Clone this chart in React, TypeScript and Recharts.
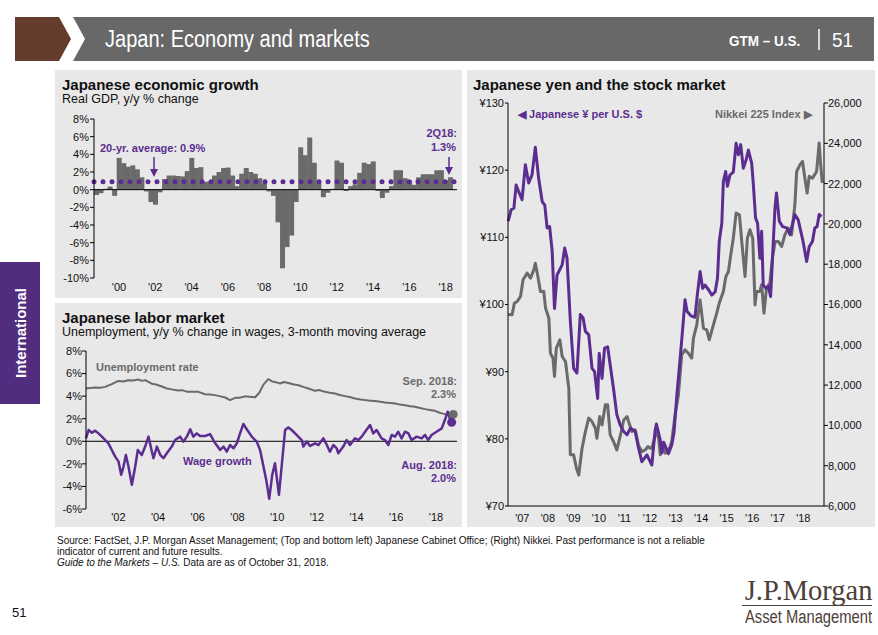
import React from 'react'
import {
  BarChart,
  Bar,
  LineChart,
  Line,
  XAxis,
  YAxis,
  ReferenceLine,
  ReferenceDot,
} from 'recharts'

const W = 878
const H = 635
const FONT = "'Liberation Sans', Arial, Helvetica, sans-serif"
const SERIF = "'Liberation Serif', 'DejaVu Serif', serif"
const PANEL = '#e8e8e8'
const PURPLE = '#5c2d91'
const GRAY = '#6a6a6a'
const INK = '#111'
const BROWN = '#633c2b'
const HEADER_GRAY = '#686868'
const TAB_PURPLE = '#512d80'
const LOGO = '#4d4038'

// ---- Japanese economic growth (real GDP, y/y %) ----
const GDP_QUARTERS = [
  '4Q98',
  '1Q99', '2Q99', '3Q99', '4Q99',
  '1Q00', '2Q00', '3Q00', '4Q00',
  '1Q01', '2Q01', '3Q01', '4Q01',
  '1Q02', '2Q02', '3Q02', '4Q02',
  '1Q03', '2Q03', '3Q03', '4Q03',
  '1Q04', '2Q04', '3Q04', '4Q04',
  '1Q05', '2Q05', '3Q05', '4Q05',
  '1Q06', '2Q06', '3Q06', '4Q06',
  '1Q07', '2Q07', '3Q07', '4Q07',
  '1Q08', '2Q08', '3Q08', '4Q08',
  '1Q09', '2Q09', '3Q09', '4Q09',
  '1Q10', '2Q10', '3Q10', '4Q10',
  '1Q11', '2Q11', '3Q11', '4Q11',
  '1Q12', '2Q12', '3Q12', '4Q12',
  '1Q13', '2Q13', '3Q13', '4Q13',
  '1Q14', '2Q14', '3Q14', '4Q14',
  '1Q15', '2Q15', '3Q15', '4Q15',
  '1Q16', '2Q16', '3Q16', '4Q16',
  '1Q17', '2Q17', '3Q17', '4Q17',
  '1Q18', '2Q18', '3Q18',
]

const GDP_GROWTH = [
  -0.6,
  -0.4, 0.1, 0.35, -0.7,
  3.6, 3.0, 2.6, 2.75,
  2.3, 1.4, -0.2, -1.4,
  -1.7, -0.3, 1.2, 1.6,
  1.6, 1.55, 1.5, 2.1,
  3.6, 2.45, 2.55, 0.9,
  0.9, 1.6, 2.0, 2.45,
  2.5, 1.6, 0.4, 1.8,
  2.45, 2.0, 1.8, 1.3,
  0.7, -0.2, -0.7, -3.7,
  -8.9, -6.5, -5.2, -1.4,
  4.8, 3.9, 5.9, 3.05,
  0.75, -0.85, -0.35, 0.1,
  3.3, 3.05, -0.15, 0.4,
  0.6, 1.9, 3.05, 2.9,
  3.2, -0.15, -0.95, -0.35,
  0.4, 2.2, 2.2, 1.3,
  1.05, 0.55, 1.4, 1.75,
  1.75, 1.75, 2.2, 2.2,
  1.05, 1.4,
]

const GDP_TICKS = ['1Q00', '1Q02', '1Q04', '1Q06', '1Q08', '1Q10', '1Q12', '1Q14', '1Q16', '1Q18']
const GDP_Y_TICKS = [8, 6, 4, 2, 0, -2, -4, -6, -8, -10]
const GDP_AVERAGE = 0.9

// ---- Japanese labor market ----
const UNEMPLOYMENT: [number, number][] = [
  [2000.37, 4.68], [2000.6, 4.72], [2000.83, 4.76], [2001.1, 4.75], [2001.33, 4.82],
  [2001.67, 5.06], [2002.0, 5.35], [2002.25, 5.3], [2002.5, 5.41], [2002.75, 5.38],
  [2003.0, 5.47], [2003.2, 5.35], [2003.35, 5.42], [2003.68, 5.1], [2003.9, 5.03],
  [2004.19, 4.85], [2004.45, 4.68], [2004.69, 4.6], [2005.0, 4.5], [2005.2, 4.53],
  [2005.45, 4.4], [2005.7, 4.38], [2006.03, 4.38], [2006.37, 4.17], [2006.6, 4.15],
  [2006.87, 4.09], [2007.1, 4.0], [2007.38, 3.88], [2007.63, 3.65], [2007.88, 3.85],
  [2008.1, 3.85], [2008.38, 3.98], [2008.6, 3.95], [2008.89, 3.9], [2009.1, 4.3],
  [2009.3, 5.0], [2009.55, 5.5], [2009.75, 5.3], [2010.0, 5.2], [2010.15, 5.12],
  [2010.35, 5.25], [2010.56, 5.17], [2010.8, 5.05], [2011.07, 4.97], [2011.35, 4.8],
  [2011.57, 4.68], [2011.91, 4.47], [2012.1, 4.55], [2012.41, 4.38], [2012.65, 4.3],
  [2012.91, 4.23], [2013.15, 4.1], [2013.42, 4.0], [2013.7, 3.9], [2013.92, 3.79],
  [2014.2, 3.7], [2014.42, 3.65], [2014.7, 3.6], [2014.93, 3.56], [2015.2, 3.5],
  [2015.43, 3.44], [2015.7, 3.4], [2015.94, 3.35], [2016.2, 3.25], [2016.44, 3.2],
  [2016.7, 3.1], [2016.94, 3.06], [2017.2, 2.95], [2017.45, 2.85], [2017.7, 2.78],
  [2017.95, 2.7], [2018.15, 2.55], [2018.35, 2.45], [2018.59, 2.32], [2018.75, 2.36],
]

const WAGE_GROWTH: [number, number][] = [
  [2000.37, 0.26], [2000.5, 1.0], [2000.67, 0.76], [2000.83, 0.94], [2001.0, 0.7],
  [2001.17, 0.41], [2001.34, 0.11], [2001.5, -0.18], [2001.67, -0.77], [2001.84, -1.36],
  [2002.01, -1.8], [2002.14, -2.97], [2002.26, -2.24], [2002.38, -1.21], [2002.51, -2.24],
  [2002.68, -3.86], [2002.85, -2.24], [2002.98, -0.77], [2003.18, -1.21], [2003.35, -0.47],
  [2003.52, 0.41], [2003.69, -0.92], [2003.77, -1.5], [2003.94, -0.47], [2004.11, -1.21],
  [2004.27, -1.5], [2004.44, -1.06], [2004.69, -0.47], [2004.86, 0.11], [2005.11, 0.41],
  [2005.28, -0.03], [2005.45, 0.41], [2005.62, 1.06], [2005.78, 0.41], [2005.95, 0.7],
  [2006.12, 0.47], [2006.37, 0.47], [2006.62, 0.64], [2006.88, -0.18], [2007.13, -0.77],
  [2007.3, -0.47], [2007.46, -0.92], [2007.63, -0.33], [2007.8, -0.62], [2007.97, -0.18],
  [2008.13, 0.7], [2008.3, 1.53], [2008.47, 1.06], [2008.72, 0.41], [2008.97, -0.03],
  [2009.14, -0.77], [2009.31, -2.24], [2009.45, -3.42], [2009.6, -5.1], [2009.75, -3.0],
  [2009.89, -1.94], [2010.09, -4.74], [2010.4, 1.0], [2010.56, 1.23], [2010.73, 1.0],
  [2010.98, 0.56], [2011.15, 0.26], [2011.24, 0.11], [2011.32, -0.47], [2011.49, -0.03],
  [2011.66, -0.41], [2011.91, -0.18], [2012.08, -0.33], [2012.33, 0.26], [2012.5, -0.33],
  [2012.66, -0.92], [2012.83, -0.33], [2013.0, -0.62], [2013.08, -1.06], [2013.33, -0.47],
  [2013.5, 0.11], [2013.67, -0.33], [2013.92, 0.26], [2014.09, 0.11], [2014.26, 0.41],
  [2014.43, 0.85], [2014.68, 1.44], [2014.84, 0.7], [2015.01, 1.0], [2015.26, 0.26],
  [2015.43, 0.11], [2015.6, -0.33], [2015.77, 0.56], [2015.94, 0.41], [2016.1, 0.85],
  [2016.27, 0.26], [2016.44, 0.85], [2016.61, 0.7], [2016.77, 0.11], [2017.03, 0.41],
  [2017.28, 0.26], [2017.45, 0.56], [2017.61, 0.11], [2017.78, 0.56], [2018.03, 0.85],
  [2018.29, 1.14], [2018.45, 1.88], [2018.59, 2.62], [2018.75, 1.73],
]

const UNEMP_LAST: [number, number] = [2018.87, 2.38]
const WAGE_LAST: [number, number] = [2018.79, 1.68]
const LABOR_TICKS = [2002, 2004, 2006, 2008, 2010, 2012, 2014, 2016, 2018]
const LABOR_Y_TICKS = [8, 6, 4, 2, 0, -2, -4, -6]

// ---- Japanese yen and the stock market ----
const YEN_PER_USD: [number, number][] = [
  [2006.45, 112.4], [2006.56, 114.1], [2006.67, 114.35], [2006.76, 117.8], [2006.86, 116.8],
  [2006.99, 115.6], [2007.12, 120.8], [2007.25, 118.1], [2007.38, 119.3], [2007.51, 123.4],
  [2007.64, 118.8], [2007.78, 115.3], [2007.88, 114.8], [2007.97, 111.4], [2008.07, 111.6],
  [2008.17, 107.9], [2008.26, 99.4], [2008.36, 104.4], [2008.56, 105.9], [2008.66, 108.4],
  [2008.75, 106.9], [2008.88, 97.5], [2009.01, 90.5], [2009.14, 89.8], [2009.27, 98.5],
  [2009.38, 98.0], [2009.47, 96.0], [2009.6, 95.5], [2009.73, 90.5], [2009.83, 90.0],
  [2009.95, 86.0], [2010.01, 92.7], [2010.12, 89.0], [2010.22, 93.5], [2010.34, 93.7],
  [2010.57, 87.5], [2010.7, 83.6], [2010.83, 82.1], [2010.97, 81.1], [2011.1, 80.6],
  [2011.23, 81.6], [2011.42, 81.1], [2011.55, 78.6], [2011.68, 76.6], [2011.88, 77.6],
  [2012.07, 76.1], [2012.2, 81.3], [2012.25, 82.2], [2012.4, 79.8], [2012.46, 77.9],
  [2012.53, 79.5], [2012.72, 77.8], [2012.85, 79.1], [2012.94, 81.0], [2013.05, 86.5],
  [2013.18, 92.0], [2013.28, 96.5], [2013.37, 100.7], [2013.45, 99.0], [2013.6, 98.3],
  [2013.76, 98.1], [2013.85, 101.4], [2013.96, 104.9], [2014.06, 102.4], [2014.15, 102.9],
  [2014.29, 102.2], [2014.42, 101.4], [2014.55, 101.9], [2014.64, 103.9], [2014.71, 109.4],
  [2014.81, 112.1], [2014.87, 118.3], [2014.96, 119.8], [2015.03, 117.6], [2015.13, 119.3],
  [2015.26, 119.7], [2015.37, 124.0], [2015.46, 122.3], [2015.55, 123.8], [2015.65, 120.3],
  [2015.76, 121.5], [2015.85, 123.0], [2015.98, 121.0], [2016.04, 118.1], [2016.13, 112.9],
  [2016.21, 112.1], [2016.3, 106.9], [2016.37, 110.9], [2016.43, 102.9], [2016.54, 102.4],
  [2016.63, 102.7], [2016.72, 101.2], [2016.82, 108.9], [2016.89, 114.3], [2016.95, 116.6],
  [2017.06, 112.4], [2017.19, 111.6], [2017.35, 111.4], [2017.48, 110.4], [2017.54, 111.4],
  [2017.67, 113.4], [2017.8, 112.6], [2017.99, 109.4], [2018.13, 106.4], [2018.23, 108.6],
  [2018.36, 109.4], [2018.45, 111.4], [2018.54, 111.6], [2018.62, 113.4], [2018.71, 113.1],
]

const NIKKEI_225: [number, number][] = [
  [2006.45, 15500], [2006.6, 15490], [2006.69, 16070], [2006.8, 16150], [2006.93, 16400],
  [2007.03, 17230], [2007.19, 17560], [2007.32, 17310], [2007.45, 17720], [2007.51, 18050],
  [2007.61, 17390], [2007.71, 16650], [2007.84, 16650], [2007.91, 15820], [2008.04, 15320],
  [2008.1, 13580], [2008.2, 13340], [2008.26, 12430], [2008.33, 13830], [2008.47, 14250],
  [2008.56, 13420], [2008.69, 13170], [2008.82, 11850], [2008.88, 8540], [2009.01, 8540],
  [2009.12, 7870], [2009.21, 7540], [2009.34, 8870], [2009.47, 9690], [2009.6, 10360],
  [2009.73, 10190], [2009.86, 9860], [2009.92, 9360], [2010.03, 10440], [2010.12, 10020],
  [2010.25, 11020], [2010.34, 11020], [2010.44, 9530], [2010.57, 9200], [2010.7, 8780],
  [2010.83, 9450], [2010.97, 10270], [2011.1, 10440], [2011.16, 10190], [2011.29, 9700],
  [2011.42, 9780], [2011.55, 9000], [2011.68, 8700], [2011.81, 8780], [2011.92, 8950],
  [2012.01, 8870], [2012.07, 8870], [2012.23, 9610], [2012.33, 9440], [2012.4, 8540],
  [2012.49, 8950], [2012.59, 8620], [2012.72, 8700], [2012.85, 9200], [2012.98, 10520],
  [2013.11, 11510], [2013.24, 13500], [2013.37, 13750], [2013.5, 13580], [2013.63, 13340],
  [2013.7, 14330], [2013.83, 14990], [2013.96, 16230], [2014.09, 14830], [2014.22, 14740],
  [2014.32, 14250], [2014.48, 14990], [2014.61, 15570], [2014.71, 16070], [2014.87, 16650],
  [2014.97, 17390], [2015.07, 17640], [2015.16, 18470], [2015.26, 19290], [2015.37, 20540],
  [2015.5, 20450], [2015.59, 19130], [2015.72, 17390], [2015.81, 19290], [2015.91, 19710],
  [2016.02, 19290], [2016.11, 15980], [2016.17, 16650], [2016.3, 16650], [2016.37, 16980],
  [2016.46, 15570], [2016.56, 16810], [2016.69, 17060], [2016.8, 18400], [2016.9, 19130],
  [2017.02, 19130], [2017.15, 18880], [2017.28, 19460], [2017.41, 19790], [2017.54, 19460],
  [2017.67, 20950], [2017.74, 22600], [2017.87, 22940], [2017.97, 23100], [2018.06, 22270],
  [2018.15, 21530], [2018.23, 22360], [2018.36, 22270], [2018.52, 22600], [2018.62, 24010],
  [2018.67, 23100], [2018.74, 22030],
]

const MARKET_TICKS = [2007, 2008, 2009, 2010, 2011, 2012, 2013, 2014, 2015, 2016, 2017, 2018]
const YEN_TICKS = [70, 80, 90, 100, 110, 120, 130]
const NIKKEI_TICKS = [6000, 8000, 10000, 12000, 14000, 16000, 18000, 20000, 22000, 24000, 26000]

const toPoints = (rows: [number, number][]) => rows.map(([x, y]) => ({ x, y }))
const yearLabel = (v: number) => `'${String(v).slice(2)}`
const tickStyle = { fontSize: 11, fill: INK, fontFamily: FONT }

// absolutely placed text, y is the vertical centre; squeeze fakes a condensed face
function Text({ x, y, children, color = INK, size = 11, bold = true, align = 'left', font = FONT, squeeze = 1 }: any) {
  const style: React.CSSProperties = {
    position: 'absolute',
    top: y,
    transform: `translateY(-50%) scaleX(${squeeze})`,
    transformOrigin: align === 'right' ? 'right center' : 'left center',
    color,
    fontSize: size,
    fontWeight: bold ? 700 : 400,
    fontFamily: font,
    whiteSpace: 'nowrap',
    lineHeight: 1,
  }
  if (align === 'right') style.right = W - x
  else style.left = x
  return <div style={style}>{children}</div>
}

function Arrow({ x, y1, y2, color }: { x: number; y1: number; y2: number; color: string }) {
  const h = y2 - y1
  return (
    <svg style={{ position: 'absolute', left: x - 5, top: y1, overflow: 'visible' }} width={10} height={h}>
      <line x1={5} y1={0} x2={5} y2={h - 5} stroke={color} strokeWidth={1.5} />
      <polygon points={`1,${h - 8} 9,${h - 8} 5,${h}`} fill={color} />
    </svg>
  )
}

function Panel({ x, y, w, h }: { x: number; y: number; w: number; h: number }) {
  return <div style={{ position: 'absolute', left: x, top: y, width: w, height: h, background: PANEL }} />
}

function GdpChart() {
  const data = GDP_QUARTERS.map((q, i) => ({ q, v: i < GDP_GROWTH.length ? GDP_GROWTH[i] : null }))
  return (
    <div style={{ position: 'absolute', left: 55, top: 105 }}>
      <BarChart width={410} height={195} data={data} margin={{ top: 14, right: 8, bottom: 2, left: 4 }} barCategoryGap={0}>
        <XAxis
          dataKey="q"
          ticks={GDP_TICKS}
          interval={0}
          tickFormatter={(q: string) => `'${q.slice(2)}`}
          axisLine={false}
          tickLine={false}
          tickSize={0}
          tickMargin={5}
          height={20}
          tick={tickStyle}
        />
        <YAxis
          domain={[-10, 8]}
          ticks={GDP_Y_TICKS}
          interval={0}
          tickFormatter={(v: number) => `${v}%`}
          width={35}
          axisLine={{ stroke: '#000' }}
          tickLine={{ stroke: '#000' }}
          tickSize={4}
          tickMargin={1}
          tick={tickStyle}
        />
        <Bar dataKey="v" fill={GRAY} isAnimationActive={false} />
        <ReferenceLine y={0} stroke="#000" strokeWidth={1} />
        <ReferenceLine y={GDP_AVERAGE} stroke={PURPLE} strokeWidth={5} strokeDasharray="0 9" strokeLinecap="round" />
      </BarChart>
    </div>
  )
}

function LaborChart() {
  return (
    <div style={{ position: 'absolute', left: 55, top: 338 }}>
      <LineChart width={410} height={185} margin={{ top: 13, right: 8, bottom: 0, left: 0 }}>
        <XAxis
          type="number"
          dataKey="x"
          domain={[2000.37, 2019.06]}
          ticks={LABOR_TICKS}
          interval={0}
          tickFormatter={yearLabel}
          axisLine={false}
          tickLine={false}
          tickSize={0}
          tickMargin={4}
          height={14}
          tick={tickStyle}
        />
        <YAxis
          domain={[-6, 8]}
          ticks={LABOR_Y_TICKS}
          interval={0}
          tickFormatter={(v: number) => `${v}%`}
          width={31}
          axisLine={{ stroke: '#000' }}
          tickLine={{ stroke: '#000' }}
          tickSize={4}
          tickMargin={0}
          tick={tickStyle}
        />
        <ReferenceLine y={0} stroke="#000" strokeWidth={1} />
        <Line data={toPoints(UNEMPLOYMENT)} dataKey="y" stroke={GRAY} strokeWidth={2} dot={false} isAnimationActive={false} strokeLinejoin="round" />
        <Line data={toPoints(WAGE_GROWTH)} dataKey="y" stroke={PURPLE} strokeWidth={2.5} dot={false} isAnimationActive={false} strokeLinejoin="round" />
        <ReferenceDot x={UNEMP_LAST[0]} y={UNEMP_LAST[1]} r={4.5} fill={GRAY} stroke="none" />
        <ReferenceDot x={WAGE_LAST[0]} y={WAGE_LAST[1]} r={4.5} fill={PURPLE} stroke="none" />
      </LineChart>
    </div>
  )
}

function MarketChart() {
  return (
    <div style={{ position: 'absolute', left: 467, top: 90 }}>
      <LineChart width={408} height={437} margin={{ top: 13, right: 5, bottom: 1, left: 0 }}>
        <XAxis
          type="number"
          dataKey="x"
          domain={[2006.44, 2018.81]}
          ticks={MARKET_TICKS}
          interval={0}
          tickFormatter={yearLabel}
          axisLine={{ stroke: '#000' }}
          tickLine={false}
          tickSize={0}
          tickMargin={8}
          height={20}
          tick={tickStyle}
        />
        <YAxis
          yAxisId="yen"
          domain={[70, 130]}
          ticks={YEN_TICKS}
          interval={0}
          tickFormatter={(v: number) => `¥${v}`}
          width={41}
          axisLine={{ stroke: '#000' }}
          tickLine={{ stroke: '#000' }}
          tickSize={3}
          tickMargin={1}
          tick={tickStyle}
        />
        <YAxis
          yAxisId="nikkei"
          orientation="right"
          domain={[6000, 26000]}
          ticks={NIKKEI_TICKS}
          interval={0}
          tickFormatter={(v: number) => v.toLocaleString('en-US')}
          width={46}
          axisLine={{ stroke: '#000' }}
          tickLine={{ stroke: '#000' }}
          tickSize={4}
          tickMargin={0}
          tick={tickStyle}
        />
        <Line yAxisId="nikkei" data={toPoints(NIKKEI_225)} dataKey="y" stroke={GRAY} strokeWidth={3} dot={false} isAnimationActive={false} strokeLinejoin="round" />
        <Line yAxisId="yen" data={toPoints(YEN_PER_USD)} dataKey="y" stroke={PURPLE} strokeWidth={3} dot={false} isAnimationActive={false} strokeLinejoin="round" />
      </LineChart>
    </div>
  )
}

export default function App() {
  return (
    <div style={{ position: 'absolute', left: 0, top: 0, width: W, height: H, background: '#fff', overflow: 'hidden', fontFamily: FONT }}>
      {/* header */}
      <svg style={{ position: 'absolute', left: 0, top: 0 }} width={W} height={70}>
        <polygon points="15,17 59,17 71,39 59,61 15,61" fill={BROWN} />
        <polygon points="73,17 874,17 874,61 73,61 85,39" fill={HEADER_GRAY} />
        <line x1={819} y1={29} x2={819} y2={50} stroke="#fff" strokeWidth={1.5} />
      </svg>
      <Text x={105} y={39} color="#fff" size={23} bold={false} squeeze={0.87}>Japan: Economy and markets</Text>
      <Text x={729} y={40} color="#fff" size={15} bold squeeze={0.9}>GTM – U.S.</Text>
      <Text x={832} y={39} color="#fff" size={21} bold={false} squeeze={0.9}>51</Text>

      {/* side tab */}
      <div style={{ position: 'absolute', left: 0, top: 262, width: 40, height: 142, background: TAB_PURPLE }} />
      <div
        style={{
          position: 'absolute', left: 20, top: 333, transform: 'translate(-50%, -50%) rotate(-90deg)',
          color: '#fff', fontFamily: FONT, fontWeight: 700, fontSize: 15, whiteSpace: 'nowrap', lineHeight: 1,
        }}
      >
        International
      </div>

      {/* panels */}
      <Panel x={55} y={70} w={407} h={228} />
      <Panel x={55} y={303} w={407} h={224} />
      <Panel x={467} y={70} w={408} h={457} />

      {/* GDP panel */}
      <Text x={62} y={84} size={15}>Japanese economic growth</Text>
      <Text x={62} y={98.5} size={12.5} bold={false}>Real GDP, y/y % change</Text>
      <GdpChart />
      <Text x={100} y={148} color={PURPLE}>20-yr. average: 0.9%</Text>
      <Arrow x={154} y1={157} y2={177} color={PURPLE} />
      <Text x={457} y={133} color={PURPLE} align="right">2Q18:</Text>
      <Text x={456} y={147} color={PURPLE} align="right">1.3%</Text>
      <Arrow x={449} y1={157} y2={175} color={PURPLE} />

      {/* labor panel */}
      <Text x={62} y={317} size={15}>Japanese labor market</Text>
      <Text x={62} y={332} size={12.5} bold={false}>Unemployment, y/y % change in wages, 3-month moving average</Text>
      <LaborChart />
      <Text x={96} y={367} color={GRAY}>Unemployment rate</Text>
      <Text x={183} y={461} color={PURPLE}>Wage growth</Text>
      <Text x={457} y={381} color={GRAY} align="right">Sep. 2018:</Text>
      <Text x={456} y={394} color={GRAY} align="right">2.3%</Text>
      <Text x={457} y={465} color={PURPLE} align="right">Aug. 2018:</Text>
      <Text x={456} y={478} color={PURPLE} align="right">2.0%</Text>

      {/* market panel */}
      <Text x={473} y={84} size={15}>Japanese yen and the stock market</Text>
      <MarketChart />
      <Text x={518} y={114} color={PURPLE}>◀ Japanese ¥ per U.S. $</Text>
      <Text x={715} y={114} color={GRAY}>Nikkei 225 Index ▶</Text>

      {/* footer */}
      <Text x={57} y={541} size={10} bold={false}>
        Source: FactSet, J.P. Morgan Asset Management; (Top and bottom left) Japanese Cabinet Office; (Right) Nikkei. Past performance is not a reliable
      </Text>
      <Text x={57} y={552} size={10} bold={false}>indicator of current and future results.</Text>
      <Text x={57} y={563} size={10} bold={false}>
        <i>Guide to the Markets – U.S.</i> Data are as of October 31, 2018.
      </Text>
      <Text x={12} y={612} size={13} bold={false}>51</Text>
      <Text x={872} y={590} size={30} bold={false} color={LOGO} align="right" font={SERIF} squeeze={0.95}>J.P.Morgan</Text>
      <div style={{ position: 'absolute', left: 742, top: 605, width: 130, height: 1, background: LOGO }} />
      <Text x={872} y={617} size={18} bold={false} color={LOGO} align="right" squeeze={0.82}>Asset Management</Text>
    </div>
  )
}
